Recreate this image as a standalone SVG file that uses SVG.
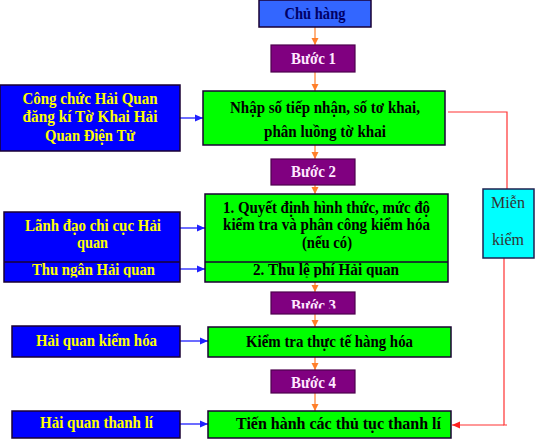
<svg xmlns="http://www.w3.org/2000/svg" width="536" height="440" viewBox="0 0 536 440">
<defs>
<style>
.box{stroke:#1a0033;stroke-width:1.5}
.owner{fill:#3366FF}
.step{fill:#800080;stroke:#4d004d;stroke-width:1.2}
.proc{fill:#00FF00}
.actor{fill:#0000FF}
.free{fill:#00FFFF;stroke:#202050;stroke-width:1.5}
text{font-family:"Liberation Serif","Times New Roman",serif;text-anchor:middle}
.tb{font-weight:bold;font-size:16px;fill:#000000}
.ty{font-weight:bold;font-size:16px;fill:#FFFF00}
.tw{font-weight:bold;font-size:16px;fill:#FFE8FF}
.tn{font-weight:bold;font-size:17px;fill:#000066}
.tm{font-size:16px;fill:#333333}
.oa{stroke:#FF7F2A;stroke-width:1.2;fill:none}
.ba{stroke:#3b3bff;stroke-width:1.5;fill:none}
.ra{stroke:#FF3333;stroke-width:1.2;fill:none}
</style>
<marker id="mo" markerUnits="userSpaceOnUse" markerWidth="8" markerHeight="8" refX="7" refY="4" orient="auto"><path d="M0,0.5 L7,4 L0,7.5 z" fill="#FF7F2A"/></marker>
<marker id="mb" markerUnits="userSpaceOnUse" markerWidth="9" markerHeight="9" refX="8" refY="4.5" orient="auto"><path d="M0,1 L8,4.5 L0,8 z" fill="#2020ff"/></marker>
<marker id="mr" markerUnits="userSpaceOnUse" markerWidth="9" markerHeight="9" refX="8" refY="4.5" orient="auto"><path d="M0,1 L8,4.5 L0,8 z" fill="#FF2020"/></marker>
<clipPath id="c3"><rect x="271" y="292" width="84" height="16.5"/></clipPath>
<clipPath id="c2"><rect x="0" y="262" width="460" height="15.5"/></clipPath>
</defs>

<g id="connectors">
<line class="oa" x1="315" y1="27" x2="315" y2="45" marker-end="url(#mo)"/>
<line class="oa" x1="315" y1="72" x2="315" y2="91" marker-end="url(#mo)"/>
<line class="oa" x1="315" y1="145" x2="315" y2="159" marker-end="url(#mo)"/>
<line class="oa" x1="315" y1="185" x2="315" y2="194" marker-end="url(#mo)"/>
<line class="oa" x1="315" y1="282" x2="315" y2="292" marker-end="url(#mo)"/>
<line class="oa" x1="315" y1="314" x2="315" y2="327" marker-end="url(#mo)"/>
<line class="oa" x1="315" y1="357" x2="315" y2="370" marker-end="url(#mo)"/>
<line class="oa" x1="315" y1="393" x2="315" y2="411" marker-end="url(#mo)"/>
<line class="ba" x1="180" y1="118" x2="203" y2="118" marker-end="url(#mb)"/>
<line class="ba" x1="180" y1="228" x2="205" y2="228" marker-end="url(#mb)"/>
<line class="ba" x1="180" y1="269" x2="205" y2="269" marker-end="url(#mb)"/>
<line class="ba" x1="180" y1="341" x2="208" y2="341" marker-end="url(#mb)"/>
<line class="ba" x1="180" y1="424" x2="208" y2="424" marker-end="url(#mb)"/>
<polyline class="ra" points="448,112 507,112 507,189"/>
<polyline class="ra" points="504,258 504,425 507,425"/>
<line class="ra" x1="504" y1="425" x2="452" y2="425" marker-end="url(#mr)"/>
</g>

<g id="chu-hang">
<rect class="box owner" x="259" y="0" width="112" height="27"/>
<text class="tn" x="315" y="19" textLength="61" lengthAdjust="spacingAndGlyphs">Chủ hàng</text>
</g>

<g id="buoc-1">
<rect class="step" x="271" y="45" width="84" height="27"/>
<text class="tw" x="313.5" y="64" textLength="45" lengthAdjust="spacingAndGlyphs">Bước 1</text>
</g>

<g id="nhap-so">
<rect class="box proc" x="203" y="91" width="242" height="54"/>
<text class="tb" x="325" y="113" textLength="190" lengthAdjust="spacingAndGlyphs">Nhập số tiếp nhận, số tơ khai,</text>
<text class="tb" x="325" y="137" textLength="122" lengthAdjust="spacingAndGlyphs">phân luồng tờ khai</text>
</g>

<g id="cong-chuc">
<rect class="box actor" x="0" y="85" width="180" height="66"/>
<text class="ty" x="90" y="104" textLength="135" lengthAdjust="spacingAndGlyphs">Công chức Hải Quan</text>
<text class="ty" x="90" y="122" textLength="135" lengthAdjust="spacingAndGlyphs">đăng kí Tờ Khai Hải</text>
<text class="ty" x="90" y="141" textLength="90" lengthAdjust="spacingAndGlyphs">Quan Điện Tử</text>
</g>

<g id="mien-kiem">
<rect class="free" x="483" y="189" width="51" height="69"/>
<text class="tm" x="508" y="208">Miễn</text>
<text class="tm" x="508" y="245">kiểm</text>
</g>

<g id="buoc-2">
<rect class="step" x="271" y="159" width="84" height="26"/>
<text class="tw" x="313.5" y="177" textLength="45" lengthAdjust="spacingAndGlyphs">Bước 2</text>
</g>

<g id="quyet-dinh">
<rect class="box proc" x="205" y="194" width="243" height="88"/>
<line x1="205" y1="262" x2="448" y2="262" stroke="#1a0033" stroke-width="1.5"/>
<text class="tb" x="326.5" y="213" textLength="207" lengthAdjust="spacingAndGlyphs">1. Quyết định hình thức, mức độ</text>
<text class="tb" x="326.5" y="230" textLength="207" lengthAdjust="spacingAndGlyphs">kiểm tra và phân công kiểm hóa</text>
<text class="tb" x="327" y="248" textLength="50" lengthAdjust="spacingAndGlyphs">(nếu có)</text>
<text class="tb" x="326" y="275" textLength="146" lengthAdjust="spacingAndGlyphs" clip-path="url(#c2)">2. Thu lệ phí Hải quan</text>
</g>

<g id="lanh-dao">
<rect class="box actor" x="4" y="212" width="176" height="70"/>
<line x1="4" y1="262" x2="180" y2="262" stroke="#1a0033" stroke-width="1.5"/>
<text class="ty" x="93" y="231" textLength="136" lengthAdjust="spacingAndGlyphs">Lãnh đạo chi cục Hải</text>
<text class="ty" x="92.5" y="248" textLength="31" lengthAdjust="spacingAndGlyphs">quan</text>
<text class="ty" x="93.5" y="275" textLength="123" lengthAdjust="spacingAndGlyphs" clip-path="url(#c2)">Thu ngân Hải quan</text>
</g>

<g id="buoc-3">
<rect class="step" x="271" y="292" width="84" height="22"/>
<text class="tw" x="313.5" y="311" textLength="45" lengthAdjust="spacingAndGlyphs" clip-path="url(#c3)">Bước 3</text>
</g>

<g id="kiem-tra">
<rect class="box proc" x="208" y="327" width="243" height="30"/>
<text class="tb" x="329.5" y="347" textLength="167" lengthAdjust="spacingAndGlyphs">Kiểm tra thực tế hàng hóa</text>
</g>

<g id="kiem-hoa">
<rect class="box actor" x="12" y="326" width="168" height="31"/>
<text class="ty" x="96.5" y="346" textLength="121" lengthAdjust="spacingAndGlyphs">Hải quan kiểm hóa</text>
</g>

<g id="buoc-4">
<rect class="step" x="271" y="370" width="84" height="23"/>
<text class="tw" x="313.5" y="388" textLength="45" lengthAdjust="spacingAndGlyphs">Bước 4</text>
</g>

<g id="thanh-li">
<rect class="box proc" x="208" y="411" width="243" height="27"/>
<text class="tb" x="338.5" y="429" textLength="205" lengthAdjust="spacingAndGlyphs">Tiến hành các thủ tục thanh lí</text>
</g>

<g id="hq-thanh-li">
<rect class="box actor" x="12" y="411" width="168" height="27"/>
<text class="ty" x="96.5" y="428" textLength="113" lengthAdjust="spacingAndGlyphs">Hải quan thanh lí</text>
</g>
</svg>
